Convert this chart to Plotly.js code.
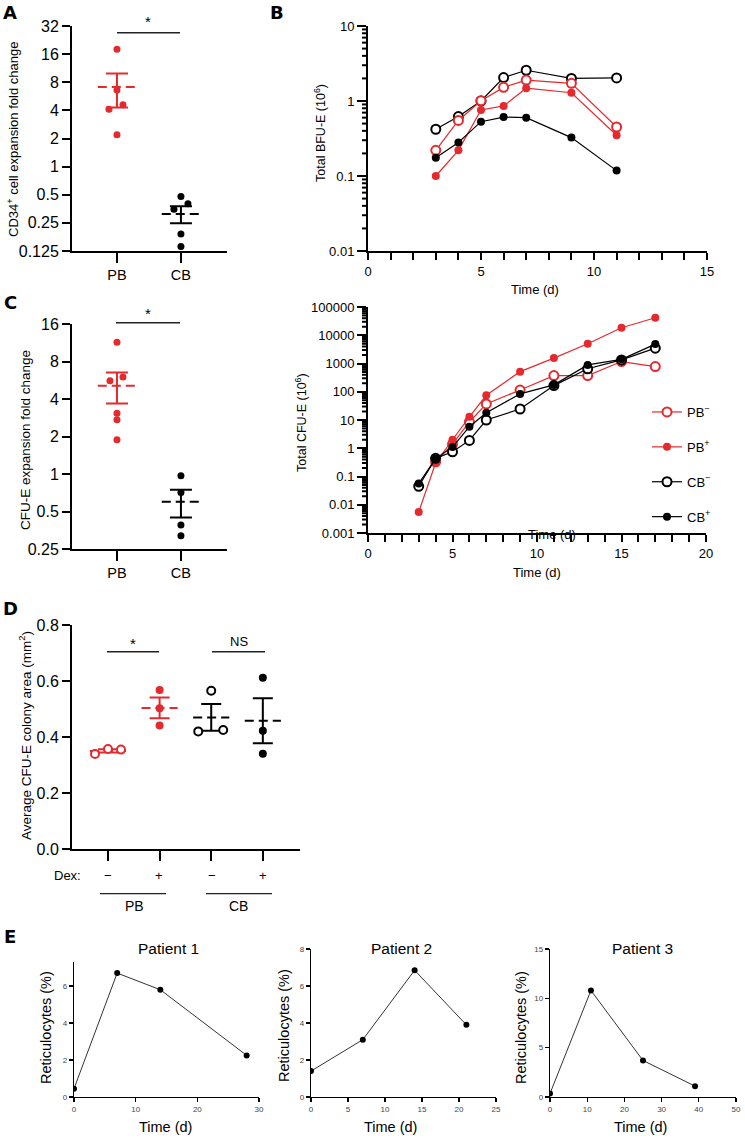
<!DOCTYPE html>
<html><head><meta charset="utf-8">
<script src="https://cdn.plot.ly/plotly-3.0.1.min.js"></script>
<style>html,body{margin:0;padding:0;background:#fff}#chart{width:745px;height:1139px}</style>
</head><body><div id="chart"></div>
<script>
// ---------- data ----------
const groupsAC = ['PB', 'CB'];
const A_PB = [18, 6.6, 4.6, 4.1, 2.2];
const A_CB = [0.48, 0.40, 0.35, 0.19, 0.14];
const C_PB = [11.4, 5.6, 6.0, 3.07, 2.72, 1.88];
const C_CB = [0.97, 0.71, 0.39, 0.32];

const B_days = [3, 4, 5, 6, 7, 9, 11];
const B_PBminus = [0.22, 0.55, 1.01, 1.52, 1.9, 1.72, 0.45];
const B_PBplus = [0.10, 0.22, 0.76, 0.86, 1.48, 1.29, 0.35];
const B_CBminus = [0.42, 0.62, 1.0, 2.05, 2.57, 2.0, 2.03];
const B_CBplus = [0.175, 0.28, 0.53, 0.61, 0.60, 0.325, 0.118];

const CE_days = [3, 4, 5, 6, 7, 9, 11, 13, 15, 17];
const CE_daysPBminus = [4, 5, 6, 7, 9, 11, 13, 15, 17];
const CE_PBminus = [0.33, 1.4, 8.5, 37, 115, 373, 373, 1170, 780];
const CE_PBplus = [0.0055, 0.30, 2.0, 13, 75, 515, 1550, 5000, 18400, 41700];
const CE_CBminus = [0.045, 0.44, 0.75, 1.9, 10, 24.5, 165, 650, 1340, 3500];
const CE_CBplus = [0.056, 0.43, 1.1, 5.8, 18, 84, 175, 890, 1400, 4870];

const D_labels = ['−', '+', '−', '+'];
const D_PBminus = [0.339, 0.357, 0.355];
const D_PBplus = [0.568, 0.503, 0.441];
const D_CBminus = [0.565, 0.420, 0.425];
const D_CBplus = [0.612, 0.422, 0.340];

const E1_days = [0, 7, 14, 28];
const E1_retic = [0.45, 6.7, 5.8, 2.25];
const E2_days = [0, 7, 14, 21];
const E2_retic = [1.4, 3.1, 6.85, 3.9];
const E3_days = [0, 11, 25, 39];
const E3_retic = [0.35, 10.8, 3.7, 1.1];

const log2Ticks = [0.125, 0.25, 0.5, 1, 2, 4, 8, 16, 32];
const bfuTicks = [0.01, 0.1, 1, 10];
const cfuTicks = [0.001, 0.01, 0.1, 1, 10, 100, 1000, 10000, 100000];

// ---------- layout helpers ----------
const W = 745, H = 1139;
const fx = p => p / W;
const fy = p => 1 - p / H;
const RED = '#e42a2d', BLK = '#000';
const FONT = 'Arial, Liberation Sans, Helvetica, sans-serif';

// horizontal jitter offsets (in px) for scatter dots
const jA_PB = [0, 0, 6, -8, 0], jA_CB = [0, 7, -7, 0, 0];
const jC_PB = [0, -7, 6, 0, 0, 0], jC_CB = [0, 0, 0, 0];
const jD = [[-13, 0, 13], [0, 0, 0], [0, -13, 12], [0, 0, 0]];
const dexPx = [108, 159, 212, 263];

function mean(a) { return a.reduce((s, v) => s + v, 0) / a.length; }
function sem(a) { const m = mean(a); const v = a.reduce((s, x) => s + (x - m) * (x - m), 0) / (a.length - 1); return Math.sqrt(v / a.length); }
function fmt(v) { return String(v); }
function minorLog(lo, hi) { const out = []; for (let d = lo; d < hi; d++) for (let k = 2; k <= 9; k++) out.push(k * Math.pow(10, d)); return out; }

const traces = [];
function dotGroup(vals, pos, jit, pxPerUnit, color, xa, ya, open, half, cap, msize) {
  const m = mean(vals), s = sem(vals);
  traces.push({x: [pos - half, pos + half], y: [m, m], xaxis: xa, yaxis: ya, mode: 'lines', showlegend: false,
    line: {color: color, width: 2, dash: '9px,5px'}, hoverinfo: 'skip'});
  traces.push({x: [pos], y: [m], xaxis: xa, yaxis: ya, mode: 'markers', showlegend: false, marker: {size: 1, opacity: 0},
    error_y: {type: 'data', array: [s], visible: true, color: color, thickness: 2, width: cap}, hoverinfo: 'skip'});
  traces.push({x: vals.map((v, i) => pos + jit[i] / pxPerUnit), y: vals, xaxis: xa, yaxis: ya, mode: 'markers', showlegend: false,
    marker: open ? {size: msize, color: '#fff', line: {color: color, width: 2}} : {size: msize, color: color}});
}

dotGroup(A_PB, 1, jA_PB, 64, RED, 'x', 'y', false, 0.3, 11, 7);
dotGroup(A_CB, 2, jA_CB, 64, BLK, 'x', 'y', false, 0.3, 11, 7);
dotGroup(C_PB, 1, jC_PB, 64, RED, 'x3', 'y3', false, 0.3, 11, 7);
dotGroup(C_CB, 2, jC_CB, 64, BLK, 'x3', 'y3', false, 0.3, 11, 7);
dotGroup(D_PBminus, 1, jD[0], 51.7, RED, 'x5', 'y5', true, 0.35, 10, 8);
dotGroup(D_PBplus, 2, jD[1], 51.7, RED, 'x5', 'y5', false, 0.35, 10, 8);
dotGroup(D_CBminus, 3, jD[2], 51.7, BLK, 'x5', 'y5', true, 0.35, 10, 8);
dotGroup(D_CBplus, 4, jD[3], 51.7, BLK, 'x5', 'y5', false, 0.35, 10, 8);

function series(x, y, color, open, xa, ya, name, legend) {
  traces.push({x: x, y: y, xaxis: xa, yaxis: ya, mode: 'lines+markers', name: name, showlegend: legend, legendgroup: name,
    line: {color: color, width: 1.2},
    marker: open ? {size: 9, color: '#fff', line: {color: color, width: 2}} : {size: 8, color: color}});
}
series(B_days, B_CBminus, BLK, true, 'x2', 'y2', 'CB−', false);
series(B_days, B_PBminus, RED, true, 'x2', 'y2', 'PB−', false);
series(B_days, B_PBplus, RED, false, 'x2', 'y2', 'PB+', false);
series(B_days, B_CBplus, BLK, false, 'x2', 'y2', 'CB+', false);
series(CE_daysPBminus, CE_PBminus, RED, true, 'x4', 'y4', 'PB<sup>−</sup>', true);
series(CE_days, CE_PBplus, RED, false, 'x4', 'y4', 'PB<sup>+</sup>', true);
series(CE_days, CE_CBminus, BLK, true, 'x4', 'y4', 'CB<sup>−</sup>', true);
series(CE_days, CE_CBplus, BLK, false, 'x4', 'y4', 'CB<sup>+</sup>', true);

function patient(x, y, xa, ya) {
  traces.push({x: x, y: y, xaxis: xa, yaxis: ya, mode: 'lines+markers', showlegend: false,
    line: {color: '#333', width: 1}, marker: {size: 6, color: '#000'}});
}
patient(E1_days, E1_retic, 'x6', 'y6');
patient(E2_days, E2_retic, 'x7', 'y7');
patient(E3_days, E3_retic, 'x8', 'y8');

// ---------- axes ----------
const base = {showgrid: false, zeroline: false, showline: true, linecolor: '#000', linewidth: 2, ticks: 'outside',
  tickcolor: '#000', tickwidth: 2, ticklen: 8, tickfont: {size: 16, color: '#000', family: FONT}, fixedrange: true};
const small = {showgrid: false, zeroline: false, showline: true, linecolor: '#000', linewidth: 1.2, ticks: 'outside',
  tickcolor: '#000', tickwidth: 1.2, ticklen: 4, tickfont: {size: 8, color: '#444', family: FONT}, fixedrange: true};
const f13 = {size: 13, color: '#000', family: FONT};

const domB = [fy(251), fy(26)], domCE = [fy(533), fy(307)];
const layout = {
  width: W, height: H, margin: {l: 0, r: 0, t: 0, b: 0}, paper_bgcolor: '#fff', plot_bgcolor: 'rgba(0,0,0,0)',
  font: {family: FONT, color: '#000'},
  showlegend: true,
  legend: {x: fx(647), y: fy(397), xanchor: 'left', yanchor: 'top', font: {size: 13, family: FONT}, tracegroupgap: 15,
    itemwidth: 30, bgcolor: 'rgba(0,0,0,0)'},
  xaxis: {...base, domain: [fx(72), fx(227)], range: [0.297, 2.72], tickvals: [1, 2], ticktext: groupsAC, ticklen: 10,
    tickfont: {size: 14.5, color: '#000', family: FONT}, anchor: 'y'},
  yaxis: {...base, type: 'log', domain: [fy(251), fy(26)], range: [Math.log10(0.125), Math.log10(32)], tickvals: log2Ticks, ticktext: log2Ticks.map(fmt), anchor: 'x'},
  xaxis2: {...base, domain: [fx(368), fx(707)], range: [0, 15], tickvals: [0, 5, 10, 15], tickfont: f13, ticklen: 7,
    minor: {dtick: 1, ticks: 'outside', ticklen: 7, tickwidth: 2, tickcolor: '#000'}, anchor: 'y2'},
  yaxis2: {...base, type: 'log', domain: domB, range: [-2, 1], tickvals: bfuTicks, ticktext: bfuTicks.map(fmt), tickfont: f13, ticklen: 9, anchor: 'x2'},
  xaxis3: {...base, domain: [fx(72), fx(227)], range: [0.297, 2.72], tickvals: [1, 2], ticktext: groupsAC, ticklen: 10,
    tickfont: {size: 14.5, color: '#000', family: FONT}, anchor: 'y3'},
  yaxis3: {...base, type: 'log', domain: [fy(549), fy(324)], range: [Math.log10(0.25), Math.log10(16)], tickvals: log2Ticks, ticktext: log2Ticks.map(fmt), anchor: 'x3'},
  xaxis4: {...base, domain: [fx(368), fx(706)], range: [0, 20], tickvals: [0, 5, 10, 15, 20], tickfont: f13, ticklen: 7,
    minor: {dtick: 1, ticks: 'outside', ticklen: 7, tickwidth: 2, tickcolor: '#000'}, anchor: 'y4'},
  yaxis4: {...base, type: 'log', domain: domCE, range: [-3, 5], tickvals: cfuTicks, ticktext: cfuTicks.map(fmt), tickfont: f13, ticklen: 9, anchor: 'x4'},
  xaxis5: {...base, domain: [fx(72), fx(300)], range: [0.303, 4.72], tickvals: [1, 2, 3, 4], ticktext: ['', '', '', ''], ticklen: 10, anchor: 'y5'},
  yaxis5: {...base, domain: [fy(849), fy(625)], range: [0, 0.8], dtick: 0.2, tickformat: '.1f', anchor: 'x5'},
  xaxis6: {...small, domain: [fx(74), fx(259)], range: [0, 30], dtick: 10, anchor: 'y6'},
  yaxis6: {...small, domain: [fy(1097), fy(962)], range: [0, 7.3], dtick: 2, anchor: 'x6'},
  xaxis7: {...small, domain: [fx(311), fx(496)], range: [0, 25], dtick: 5, anchor: 'y7'},
  yaxis7: {...small, domain: [fy(1097), fy(949)], range: [0, 8], dtick: 2, anchor: 'x7'},
  xaxis8: {...small, domain: [fx(550), fx(736)], range: [0, 50], dtick: 10, anchor: 'y8'},
  yaxis8: {...small, domain: [fy(1097), fy(949)], range: [0, 15], dtick: 5, anchor: 'x8'},
};

function ann(text, px, py, size, extra) {
  return Object.assign({text: text, x: fx(px), y: fy(py), xref: 'paper', yref: 'paper', showarrow: false,
    xanchor: 'center', yanchor: 'middle', font: {size: size, color: '#000', family: FONT}}, extra || {});
}
const bold = {font: {size: 18, color: '#000', family: 'DejaVu Sans, Liberation Sans, sans-serif', weight: 'bold'}};
layout.annotations = [
  ann('<b>A</b>', 10, 13, 18, bold), ann('<b>B</b>', 277, 12, 18, bold), ann('<b>C</b>', 10, 302, 18, bold),
  ann('<b>D</b>', 10, 608, 18, bold), ann('<b>E</b>', 10, 936, 18, bold),
  ann('CD34<sup>+</sup> cell expansion fold change', 13, 140, 13, {textangle: -90}),
  ann('Total BFU-E (10<sup>6</sup>)', 320, 133, 12.5, {textangle: -90}),
  ann('Time (d)', 535, 289, 13),
  ann('CFU-E expansion fold change', 25, 440, 13.5, {textangle: -90}),
  ann('Total CFU-E (10<sup>6</sup>)', 301, 423, 12.5, {textangle: -90}),
  ann('Time (d)', 552, 535, 13),
  ann('Time (d)', 537, 572, 13),
  ann('Average CFU-E colony area (mm<sup>2</sup>)', 25, 736, 13.5, {textangle: -90}),
  ann('*', 148, 22, 15), ann('*', 148, 313, 15),
  ann('*', 133, 643, 15), ann('NS', 239, 641, 13),
  ann('Dex:', 67, 875, 13),
  ...D_labels.map((t, i) => ann(t, dexPx[i], 875, 13)),
  ann('PB', 134, 906, 14), ann('CB', 238, 906, 14),
  ann('Patient 1', 168, 948, 15.5), ann('Patient 2', 402, 948, 15.5), ann('Patient 3', 642, 948, 15.5),
  ann('Reticulocytes (%)', 46, 1028, 14.5, {textangle: -90}),
  ann('Reticulocytes (%)', 284, 1026, 14.5, {textangle: -90}),
  ann('Reticulocytes (%)', 521, 1028, 14.5, {textangle: -90}),
  ann('Time (d)', 165, 1127, 14.5), ann('Time (d)', 390, 1127, 14.5), ann('Time (d)', 640, 1127, 14.5),
];

function hline(x0, x1, py, w, c) {
  return {type: 'line', xref: 'paper', yref: 'paper', x0: fx(x0), x1: fx(x1), y0: fy(py), y1: fy(py), line: {color: c || '#222', width: w || 1.5}};
}
// minor log ticks on the left of an axis (pixel rows computed from the axis domain and log range)
function minorTicks(vals, topPx, botPx, rlo, rhi, axisPx) {
  return vals.map(v => {
    const py = botPx - (Math.log10(v) - rlo) / (rhi - rlo) * (botPx - topPx);
    return hline(axisPx - 6, axisPx - 1, py, 2, '#000');
  });
}
layout.shapes = [
  hline(117, 180, 32.7), hline(116, 180, 322.7),
  hline(107, 159, 651.7), hline(212, 265, 651.7),
  hline(100, 166, 893.7, 1.3), hline(206, 272, 893.7, 1.3),
].concat(minorTicks(minorLog(-2, 1), 26, 251, -2, 1, 368), minorTicks(minorLog(-3, 5), 307, 533, -3, 5, 368));

Plotly.newPlot('chart', traces, layout, {staticPlot: true, displayModeBar: false});
</script></body></html>
